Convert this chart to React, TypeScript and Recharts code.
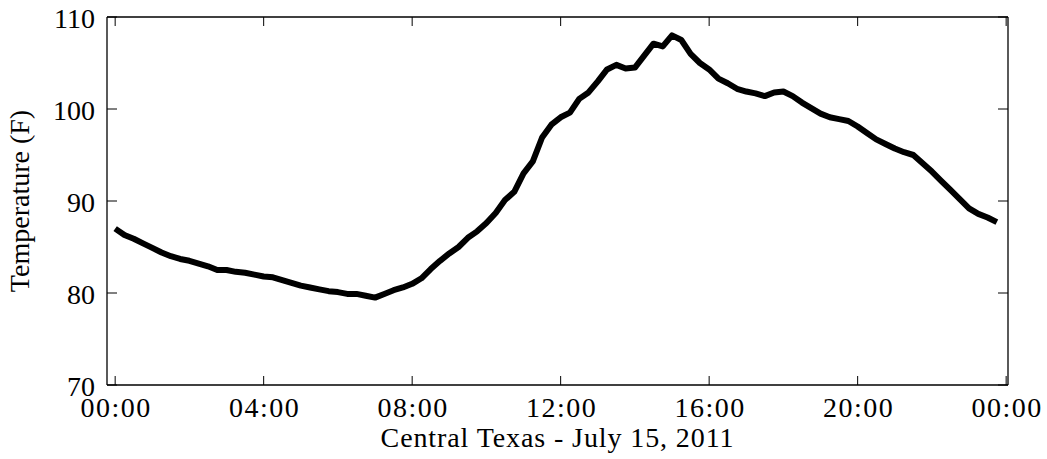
import { LineChart, Line, XAxis, YAxis } from 'recharts';

const FONT = '"Liberation Serif", "Times New Roman", serif';

// readings every 15 minutes, July 15 2011
const times = [
  '00:00', '00:15', '00:30', '00:45', '01:00', '01:15', '01:30', '01:45',
  '02:00', '02:15', '02:30', '02:45', '03:00', '03:15', '03:30', '03:45',
  '04:00', '04:15', '04:30', '04:45', '05:00', '05:15', '05:30', '05:45',
  '06:00', '06:15', '06:30', '06:45', '07:00', '07:15', '07:30', '07:45',
  '08:00', '08:15', '08:30', '08:45', '09:00', '09:15', '09:30', '09:45',
  '10:00', '10:15', '10:30', '10:45', '11:00', '11:15', '11:30', '11:45',
  '12:00', '12:15', '12:30', '12:45', '13:00', '13:15', '13:30', '13:45',
  '14:00', '14:15', '14:30', '14:45', '15:00', '15:15', '15:30', '15:45',
  '16:00', '16:15', '16:30', '16:45', '17:00', '17:15', '17:30', '17:45',
  '18:00', '18:15', '18:30', '18:45', '19:00', '19:15', '19:30', '19:45',
  '20:00', '20:15', '20:30', '20:45', '21:00', '21:15', '21:30', '21:45',
  '22:00', '22:15', '22:30', '22:45', '23:00', '23:15', '23:30', '23:45',
];

const temps = [
  87.0, 86.3, 85.9, 85.4, 84.9, 84.4, 84.0, 83.7,
  83.5, 83.2, 82.9, 82.5, 82.5, 82.3, 82.2, 82.0,
  81.8, 81.7, 81.4, 81.1, 80.8, 80.6, 80.4, 80.2,
  80.1, 79.9, 79.9, 79.7, 79.5, 79.9, 80.3, 80.6,
  81.0, 81.6, 82.6, 83.5, 84.3, 85.0, 86.0, 86.7,
  87.6, 88.7, 90.1, 91.0, 93.0, 94.3, 96.9, 98.3,
  99.1, 99.6, 101.1, 101.8, 103.0, 104.3, 104.8, 104.4,
  104.5, 105.8, 107.1, 106.8, 108.0, 107.5, 106.0, 105.0,
  104.3, 103.3, 102.8, 102.2, 101.9, 101.7, 101.4, 101.8,
  101.9, 101.4, 100.7, 100.1, 99.5, 99.1, 98.9, 98.7,
  98.1, 97.4, 96.7, 96.2, 95.7, 95.3, 95.0, 94.1,
  93.2, 92.2, 91.2, 90.2, 89.2, 88.6, 88.2, 87.7,
];

const xTicks = [0, 4, 8, 12, 16, 20, 24];
const xTickLabels = ['00:00', '04:00', '08:00', '12:00', '16:00', '20:00', '00:00'];
const yTicks = [70, 80, 90, 100, 110];

const toHours = (s: string) => {
  const [h, m] = s.split(':').map(Number);
  return h + m / 60;
};

const data = times.map((s, i) => ({ t: toHours(s), temp: temps[i] }));

const xDomain = [-0.22, 24.05];
const yDomain = [70, 110];

function BottomTick(props: any) {
  const { x, y, payload } = props;
  return (
    <g>
      <line x1={x} y1={y} x2={x} y2={y - 9} stroke="#000" strokeWidth={1} />
      <text
        x={x + 1}
        y={y + 32}
        textAnchor="middle"
        fontSize={28}
        fontFamily={FONT}
        letterSpacing={1.5}
        fill="#000"
      >
        {xTickLabels[xTicks.indexOf(payload.value)]}
      </text>
    </g>
  );
}

function TopTick(props: any) {
  const { x, y } = props;
  return <line x1={x} y1={y} x2={x} y2={y + 9} stroke="#000" strokeWidth={1} />;
}

function LeftTick(props: any) {
  const { x, y, payload } = props;
  return (
    <g>
      <line x1={x} y1={y} x2={x + 10} y2={y} stroke="#000" strokeWidth={1} />
      <text x={x - 12} y={y + 11} textAnchor="end" fontSize={28} fontFamily={FONT} fill="#000">
        {payload.value}
      </text>
    </g>
  );
}

function RightTick(props: any) {
  const { x, y } = props;
  return <line x1={x} y1={y} x2={x - 10} y2={y} stroke="#000" strokeWidth={1} />;
}

function XTitle(props: any) {
  const vb = props.viewBox || { x: 107, y: 385, width: 901, height: 74 };
  return (
    <text
      x={vb.x + vb.width / 2}
      y={vb.y + 62}
      textAnchor="middle"
      fontSize={28}
      fontFamily={FONT}
      letterSpacing={0.9}
      fill="#000"
    >
      Central Texas - July 15, 2011
    </text>
  );
}

function YTitle(props: any) {
  const vb = props.viewBox || { x: 0, y: 17, width: 107, height: 368 };
  const cx = vb.x + 29;
  const cy = vb.y + vb.height / 2;
  return (
    <text
      x={cx}
      y={cy}
      transform={`rotate(-90, ${cx}, ${cy})`}
      textAnchor="middle"
      fontSize={28}
      fontFamily={FONT}
      fill="#000"
    >
      Temperature (F)
    </text>
  );
}

export default function App() {
  return (
    <div style={{ position: 'absolute', left: 0, top: 0, background: '#fff' }}>
      <LineChart width={1047} height={459} data={data} margin={{ top: 16, right: 38, bottom: 0, left: 0 }}>
        <XAxis
          xAxisId="b"
          type="number"
          dataKey="t"
          domain={xDomain}
          ticks={xTicks}
          interval={0}
          allowDataOverflow
          height={74}
          axisLine={{ stroke: '#000', strokeWidth: 1.3 }}
          tickLine={false}
          tickSize={0}
          tickMargin={0}
          tick={(p: any) => <BottomTick {...p} />}
          label={{ content: (p: any) => <XTitle {...p} /> }}
        />
        <XAxis
          xAxisId="t"
          orientation="top"
          type="number"
          dataKey="t"
          domain={xDomain}
          ticks={xTicks}
          interval={0}
          allowDataOverflow
          height={1}
          axisLine={{ stroke: '#000', strokeWidth: 1.3 }}
          tickLine={false}
          tickSize={0}
          tickMargin={0}
          tick={(p: any) => <TopTick {...p} />}
        />
        <YAxis
          yAxisId="l"
          type="number"
          domain={yDomain}
          ticks={yTicks}
          interval={0}
          allowDataOverflow
          width={107}
          axisLine={{ stroke: '#000', strokeWidth: 1.3 }}
          tickLine={false}
          tickSize={0}
          tickMargin={0}
          tick={(p: any) => <LeftTick {...p} />}
          label={{ content: (p: any) => <YTitle {...p} /> }}
        />
        <YAxis
          yAxisId="r"
          orientation="right"
          type="number"
          domain={yDomain}
          ticks={yTicks}
          interval={0}
          allowDataOverflow
          width={1}
          axisLine={{ stroke: '#000', strokeWidth: 1.3 }}
          tickLine={false}
          tickSize={0}
          tickMargin={0}
          tick={(p: any) => <RightTick {...p} />}
        />
        <Line
          xAxisId="b"
          yAxisId="l"
          type="linear"
          dataKey="temp"
          stroke="#000"
          strokeWidth={6}
          strokeLinejoin="round"
          dot={false}
          activeDot={false}
          isAnimationActive={false}
        />
      </LineChart>
    </div>
  );
}
